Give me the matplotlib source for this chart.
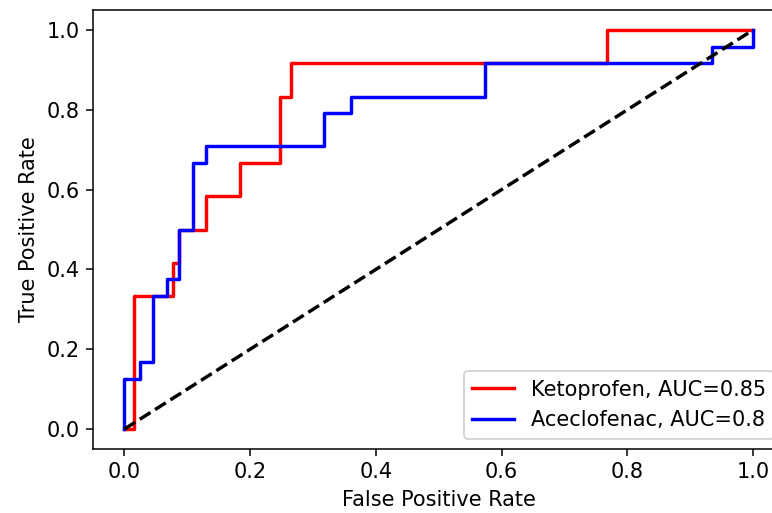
import matplotlib
matplotlib.use("Agg")
import matplotlib.pyplot as plt

# ROC corner points
keto_fpr = [0, 0.016, 0.016, 0.077, 0.077, 0.087, 0.087, 0.13, 0.13, 0.184, 0.184,
            0.247, 0.247, 0.265, 0.265, 0.767, 0.767, 1.0]
keto_tpr = [0, 0, 0.333, 0.333, 0.417, 0.417, 0.5, 0.5, 0.583, 0.583, 0.667,
            0.667, 0.833, 0.833, 0.917, 0.917, 1.0, 1.0]

acec_fpr = [0, 0, 0.024, 0.024, 0.046, 0.046, 0.067, 0.067, 0.087, 0.087, 0.109, 0.109,
            0.13, 0.13, 0.317, 0.317, 0.36, 0.36, 0.573, 0.573, 0.934, 0.934, 1.0, 1.0]
acec_tpr = [0, 0.125, 0.125, 0.167, 0.167, 0.333, 0.333, 0.375, 0.375, 0.5, 0.5, 0.667,
            0.667, 0.708, 0.708, 0.792, 0.792, 0.833, 0.833, 0.917, 0.917, 0.958, 0.958, 1.0]

keto_auc = 0.85
acec_auc = 0.8

plt.rcParams['font.size'] = 11
plt.rcParams['lines.linewidth'] = 1.8

DPI = 137
fig = plt.figure(figsize=(772 / DPI, 513 / DPI), dpi=DPI)
ax = fig.add_axes([93 / 772, 64 / 513, (784.5 - 93) / 772, 439 / 513])

ax.plot(keto_fpr, keto_tpr, color='red', label=f'Ketoprofen, AUC={keto_auc}')
ax.plot(acec_fpr, acec_tpr, color='blue', label=f'Aceclofenac, AUC={acec_auc}')
ax.plot([0, 1], [0, 1], 'k--')

ax.set_xlabel('False Positive Rate')
ax.set_ylabel('True Positive Rate')
ax.legend(loc='lower right')

fig.savefig('out.png', dpi=DPI)
